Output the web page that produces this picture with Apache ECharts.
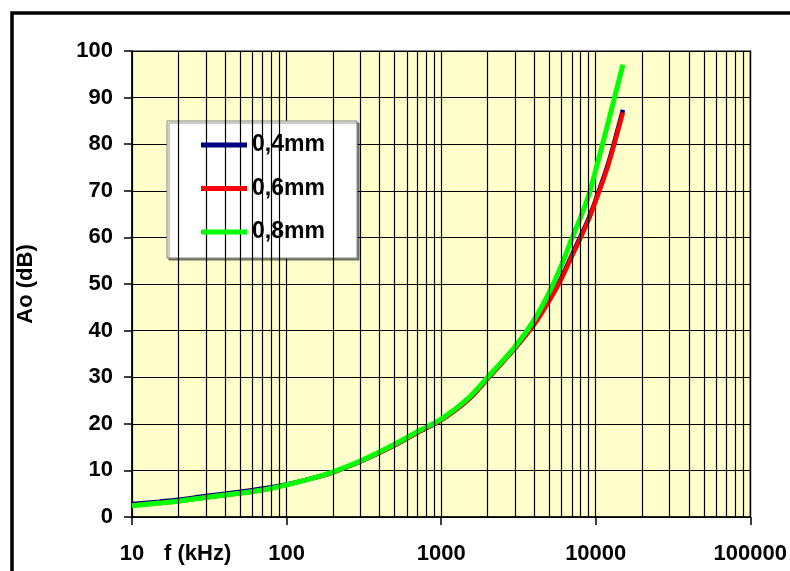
<!DOCTYPE html>
<html lang="en">
<head>
    <meta charset="UTF-8">
    <title>Ao (dB)</title>
    <script src="https://cdn.jsdelivr.net/npm/echarts@6/dist/echarts.min.js"></script>
    <style>
        html, body {
            margin: 0;
            padding: 0;
            background: #fff;
        }
        #main {
            width: 790px;
            height: 571px;
        }
    </style>
</head>
<body>
<div id="main"></div>
<script>
    // frequencies in kHz
    var freq = [10, 15, 20, 30, 50, 70, 100, 150, 200, 300, 500, 700, 1000, 1500, 2000, 3000, 4000, 5000, 6000, 7000, 8000, 9000, 10000, 12000, 15000];
    // attenuation Ao (dB) per wire diameter
    var ao04 = [2.8, 3.3, 3.7, 4.5, 5.4, 6.1, 7.0, 8.4, 9.6, 11.9, 15.4, 18.1, 20.8, 25.2, 29.7, 36.2, 41.5, 46.7, 51.4, 56.2, 60.3, 64.1, 68.1, 75.7, 87.4];
    var ao06 = [2.5, 3.0, 3.4, 4.2, 5.1, 5.8, 6.9, 8.4, 9.6, 11.9, 15.4, 18.1, 20.8, 25.2, 29.7, 36.2, 41.3, 46.4, 51.1, 55.9, 60.0, 63.8, 67.8, 75.3, 86.8];
    var ao08 = [2.4, 3.0, 3.4, 4.2, 5.1, 5.8, 6.9, 8.4, 9.7, 12.0, 15.6, 18.3, 21.0, 25.5, 30.0, 36.5, 42.3, 48.2, 54.0, 59.7, 64.4, 69.0, 74.5, 84.5, 97.1];
    var seriesNames = ['0,4mm', '0,6mm', '0,8mm'];
    var xTicks = [10, 100, 1000, 10000, 100000];

    var FONT = '"Liberation Sans", Arial, sans-serif';

    function pairs(vals) {
        var out = [];
        for (var i = 0; i < freq.length; i++) {
            out.push([freq[i], vals[i]]);
        }
        return out;
    }

    // vertical lines at 2..9 of every decade
    var minorLines = [];
    for (var d = 0; d < xTicks.length - 1; d++) {
        for (var k = 2; k <= 9; k++) {
            minorLines.push({xAxis: xTicks[d] * k});
        }
    }

    var chart = echarts.init(document.getElementById('main'));
    var option = {
        animation: false,
        backgroundColor: '#fff',
        grid: {
            left: 132,
            top: 51,
            right: 35,
            bottom: 54,
            show: true,
            backgroundColor: '#FFFFCC',
            borderColor: '#808080',
            borderWidth: 2
        },
        legend: {
            data: seriesNames,
            z: 20,
            orient: 'vertical',
            left: 201,
            top: 132,
            padding: 0,
            icon: 'rect',
            itemWidth: 46,
            itemHeight: 5,
            itemGap: 17.5,
            textStyle: {
                fontFamily: FONT,
                fontWeight: 'bold',
                fontSize: 23,
                lineHeight: 26,
                color: '#000'
            }
        },
        graphic: [
            {
                type: 'rect',
                z: 0,
                shape: {x: 12, y: 13, width: 800, height: 600},
                style: {fill: null, stroke: '#000', lineWidth: 3.5}
            },
            {
                type: 'rect',
                z: 5,
                shape: {x: 167, y: 121, width: 190, height: 137},
                style: {
                    fill: '#fff',
                    stroke: '#808080',
                    lineWidth: 1,
                    shadowColor: 'rgba(0,0,0,0.45)',
                    shadowOffsetX: 2,
                    shadowOffsetY: 2,
                    shadowBlur: 1
                }
            },
            {
                type: 'text',
                left: 164,
                top: 543,
                style: {
                    text: 'f (kHz)',
                    font: 'bold 22px ' + FONT,
                    fill: '#000'
                }
            }
        ],
        xAxis: {
            type: 'log',
            logBase: 10,
            min: 10,
            max: 100000,
            axisLine: {lineStyle: {color: '#000', width: 1.5}},
            axisTick: {show: true, length: 8, lineStyle: {color: '#000', width: 1.5}},
            axisLabel: {
                margin: 26,
                fontFamily: FONT,
                fontWeight: 'bold',
                fontSize: 22,
                color: '#000',
                formatter: function (v) {
                    return String(Math.round(v));
                }
            },
            splitLine: {show: true, lineStyle: {color: '#000', width: 1.2}}
        },
        yAxis: {
            type: 'value',
            min: 0,
            max: 100,
            interval: 10,
            name: 'Ao (dB)',
            nameLocation: 'middle',
            nameGap: 95,
            nameTextStyle: {
                fontFamily: FONT,
                fontWeight: 'bold',
                fontSize: 22,
                color: '#000'
            },
            axisLine: {show: true, lineStyle: {color: '#000', width: 1.5}},
            axisTick: {show: true, length: 8, lineStyle: {color: '#000', width: 1.5}},
            axisLabel: {
                margin: 19,
                fontFamily: FONT,
                fontWeight: 'bold',
                fontSize: 22,
                color: '#000'
            },
            splitLine: {show: true, lineStyle: {color: '#000', width: 1.2}}
        },
        series: [
            {
                name: 'minor',
                type: 'line',
                data: [],
                silent: true,
                z: 1,
                markLine: {
                    silent: true,
                    symbol: 'none',
                    label: {show: false},
                    lineStyle: {color: '#000', width: 1.2, type: 'solid'},
                    data: minorLines
                }
            },
            {
                name: seriesNames[0],
                type: 'line',
                data: pairs(ao04),
                smooth: 0.3,
                showSymbol: false,
                z: 3,
                color: '#000080',
                lineStyle: {width: 4.5, color: '#000080'}
            },
            {
                name: seriesNames[1],
                type: 'line',
                data: pairs(ao06),
                smooth: 0.3,
                showSymbol: false,
                z: 3,
                color: '#FF0000',
                lineStyle: {width: 4.5, color: '#FF0000'}
            },
            {
                name: seriesNames[2],
                type: 'line',
                data: pairs(ao08),
                smooth: 0.3,
                showSymbol: false,
                z: 3,
                color: '#00FF00',
                lineStyle: {width: 5, color: '#00FF00'}
            }
        ]
    };
    chart.setOption(option);
</script>
</body>
</html>
